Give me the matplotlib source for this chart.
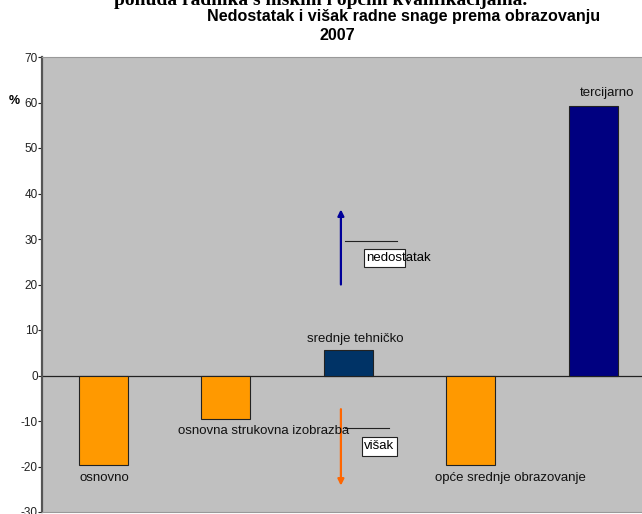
import matplotlib
matplotlib.use("Agg")
import matplotlib.pyplot as plt
from matplotlib.patches import Rectangle

plt.rcParams["font.family"] = ["Liberation Sans", "DejaVu Sans"]

categories = ["osnovno", "osnovna strukovna izobrazba", "srednje tehničko",
              "opće srednje obrazovanje", "tercijarno"]
values = [-19.6, -9.5, 5.7, -19.6, 59.3]
colors = ["#FF9900", "#FF9900", "#003366", "#FF9900", "#000080"]
yticks = list(range(-30, 80, 10))

fig = plt.figure(figsize=(6.42, 5.14), dpi=100)
ax = fig.add_axes([42 / 642, 2 / 514, 600 / 642, 455 / 514])
ax.set_facecolor("#C0C0C0")

x = list(range(len(categories)))
ax.bar(x, values, width=0.4, color=colors, edgecolor="#222222", linewidth=0.8, zorder=3)
ax.axhline(0, color="#222222", lw=0.9, zorder=2)

ax.set_xlim(-0.5, -0.5 + 600 / 122.5)
ax.set_ylim(-30, 70)
ax.set_yticks(yticks)
ax.set_yticklabels([str(v) for v in yticks], fontsize=8.5)
ax.set_xticks([])
ax.tick_params(axis="y", direction="out", length=3, width=0.8, pad=0, colors="#222222")
ax.spines["left"].set_color("#555555"); ax.spines["left"].set_linewidth(1.6)
ax.spines["top"].set_color("#999999")
ax.spines["bottom"].set_color("#999999")
ax.spines["right"].set_visible(False)

# category labels
lab = dict(fontsize=9.5, color="#111111", zorder=5)
ax.text(0.01, -22.6, categories[0], ha="center", va="center", **lab)
ax.text(0.61, -12.2, categories[1], ha="left", va="center", **lab)
ax.text(2.06, 8.0, categories[2], ha="center", va="center", **lab)
ax.text(2.71, -22.6, categories[3], ha="left", va="center", **lab)
ax.text(4.11, 62.0, categories[4], ha="center", va="center", **lab)

# nedostatak / visak markers
ax.annotate("", xy=(1.94, 36.5), xytext=(1.94, 20),
            arrowprops=dict(arrowstyle="-|>", color="#000099", lw=1.6,
                            mutation_scale=9, shrinkA=0, shrinkB=0), zorder=4)
ax.plot([1.97, 2.40], [29.6, 29.6], color="#222222", lw=0.8, zorder=4)
ax.add_patch(Rectangle((2.13, 23.9), 0.33, 4.0, facecolor="white",
                       edgecolor="#222222", lw=0.8, zorder=4))
ax.text(2.145, 25.8, "nedostatak", ha="left", va="center", fontsize=9.5, zorder=5)

ax.annotate("", xy=(1.94, -24.2), xytext=(1.94, -7.4),
            arrowprops=dict(arrowstyle="-|>", color="#FF6600", lw=1.6,
                            mutation_scale=9, shrinkA=0, shrinkB=0), zorder=4)
ax.plot([1.97, 2.33], [-11.5, -11.5], color="#222222", lw=0.8, zorder=4)
ax.add_patch(Rectangle((2.11, -17.6), 0.29, 4.0, facecolor="white",
                       edgecolor="#222222", lw=0.8, zorder=4))
ax.text(2.125, -15.5, "višak", ha="left", va="center", fontsize=9.5, zorder=5)

# titles
fig.text(321 / 642, 1 - 5 / 514, "ponuda radnika s niskim i općim kvalifikacijama.",
         ha="center", va="baseline", fontsize=14, fontweight="bold",
         family=["Liberation Serif", "DejaVu Serif"])
fig.text(404 / 642, 1 - 16 / 514, "Nedostatak i višak radne snage prema obrazovanju",
         ha="center", va="center", fontsize=11.6, fontweight="bold")
fig.text(337 / 642, 1 - 35 / 514, "2007", ha="center", va="center",
         fontsize=11.6, fontweight="bold")
fig.text(14 / 642, 1 - 101 / 514, "%", ha="center", va="center",
         fontsize=9, fontweight="bold")

fig.savefig("out.png", dpi=100)
